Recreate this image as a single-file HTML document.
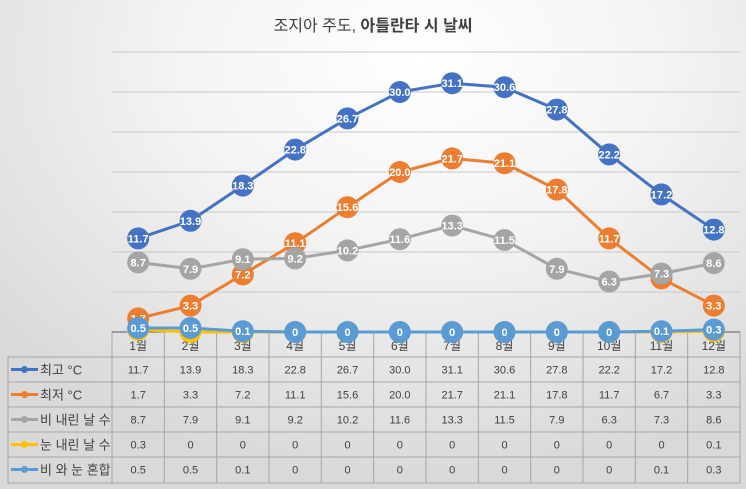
<!DOCTYPE html>
<html><head><meta charset="utf-8"><style>
html,body{margin:0;padding:0}
body{width:746px;height:489px;overflow:hidden;background:radial-gradient(ellipse 560px 420px at 420px 60px,#ffffff 0%,#f3f3f3 45%,#d9d9d9 100%);font-family:"Liberation Sans","Noto Sans CJK KR",sans-serif}
</style></head><body>
<svg id="c" width="746" height="489" style="position:absolute;left:0;top:0"></svg>
<script>
const months=["1월","2월","3월","4월","5월","6월","7월","8월","9월","10월","11월","12월"];
const seriesNames=["최고 °C","최저 °C","비 내린 날 수","눈 내린 날 수","비 와 눈 혼합"];
const highs=[11.7,13.9,18.3,22.8,26.7,30.0,31.1,30.6,27.8,22.2,17.2,12.8];
const lows=[1.7,3.3,7.2,11.1,15.6,20.0,21.7,21.1,17.8,11.7,6.7,3.3];
const rainDays=[8.7,7.9,9.1,9.2,10.2,11.6,13.3,11.5,7.9,6.3,7.3,8.6];
const snowDays=[0.3,0,0,0,0,0,0,0,0,0,0,0.1];
const mixDays=[0.5,0.5,0.1,0,0,0,0,0,0,0,0.1,0.3];
const yTicks=[0,5,10,15,20,25,30,35];
const colors=["#4472c4","#ed7d31","#a5a5a5","#ffc000","#5b9bd5"];
const all=[highs,lows,rainDays,snowDays,mixDays];
const decimals=[1,1,1,null,null];

const NS="http://www.w3.org/2000/svg";
const svg=document.getElementById('c');
const L=112,R=740,Y0=332,PX=8,colW=(R-L)/12;
const x=i=>L+colW*(i+0.5);
const y=v=>Y0-v*PX;
function el(t,a,p){const e=document.createElementNS(NS,t);for(const k in a)e.setAttribute(k,a[k]);(p||svg).appendChild(e);return e;}
function fmt(v,s){return decimals[s]===1?v.toFixed(1):String(v);}

const title=el('text',{x:373,y:31,'text-anchor':'middle','font-size':16,fill:'#404040'});


const t1=el('tspan',{},title);t1.textContent='조지아 주도, ';
const t2=el('tspan',{'font-weight':'bold'},title);t2.textContent='아틀란타 시 날씨';

yTicks.forEach(t=>{if(t===0)return;
 const g=el('line',{x1:L,x2:R,y1:y(t),y2:y(t),stroke:'#c8c8c8','stroke-width':1});
 
 
});

// table
const rowsY=[332,357,382,407,432,457,483];
const tg=el('g',{});


for(let i=0;i<=12;i++){el('line',{x1:L+colW*i,x2:L+colW*i,y1:332,y2:483,stroke:'#a6a6a6'},tg);}
el('line',{x1:8,x2:8,y1:357,y2:483,stroke:'#a6a6a6'},tg);
rowsY.forEach((ry,k)=>{el('line',{x1:k===0?L:8,x2:R,y1:ry,y2:ry,stroke:k===0?'#595959':'#a6a6a6'},tg);});
months.forEach((m,i)=>{const t=el('text',{x:x(i),y:350,'text-anchor':'middle','font-size':12,fill:'#404040'},tg);t.textContent=m;
 
 });
all.forEach((arr,s)=>{
 const cy=rowsY[s+1]+12.5;
 const lg=el('g',{},tg);
 
 
 el('line',{x1:11,x2:38,y1:cy,y2:cy,stroke:colors[s],'stroke-width':3},lg);
 el('circle',{cx:24.5,cy:cy,r:3.5,fill:colors[s]},lg);
 const ln=el('text',{x:40,y:cy+5,'font-size':13,fill:'#404040'},lg);ln.textContent=seriesNames[s];
 arr.forEach((v,i)=>{const t=el('text',{x:x(i),y:cy+4,'text-anchor':'middle','font-size':11,fill:'#404040'},tg);t.textContent=fmt(v,s);
  
  });
});

// series
all.forEach((arr,s)=>{
 const g=el('g',{});
 
 
 el('polyline',{points:arr.map((v,i)=>x(i)+','+y(v)).join(' '),fill:'none',stroke:colors[s],'stroke-width':3},g);
 arr.forEach((v,i)=>{
  const c=el('circle',{cx:x(i),cy:y(v),r:11,fill:colors[s]},g);
  
  
  const t=el('text',{x:x(i),y:y(v)+4,'text-anchor':'middle','font-size':11,'font-weight':'bold',fill:'#fff'},g);
  t.textContent=fmt(v,s);
 });
});
</script>
</body></html>
